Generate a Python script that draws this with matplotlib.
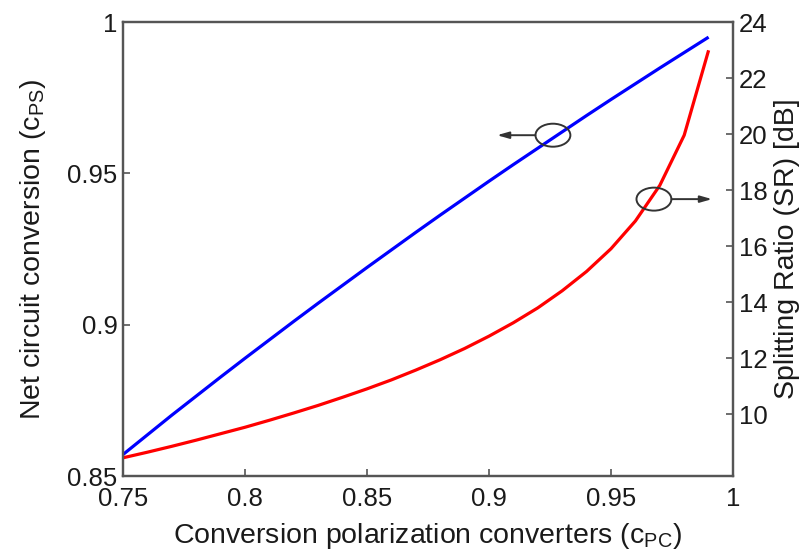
import matplotlib
matplotlib.use("Agg")
import matplotlib.pyplot as plt
from matplotlib.patches import Ellipse

# conversion of the polarization converters (x axis)
c_pc = [0.75, 0.76, 0.77, 0.78, 0.79, 0.80, 0.81, 0.82, 0.83, 0.84,
        0.85, 0.86, 0.87, 0.88, 0.89, 0.90, 0.91, 0.92, 0.93, 0.94,
        0.95, 0.96, 0.97, 0.98, 0.99]

# net circuit conversion (left axis)
c_ps = [0.8571, 0.8636, 0.8701, 0.8764, 0.8827, 0.8889, 0.8950, 0.9011,
        0.9071, 0.9130, 0.9189, 0.9247, 0.9305, 0.9362, 0.9418, 0.9474,
        0.9529, 0.9583, 0.9637, 0.9691, 0.9744, 0.9796, 0.9848, 0.9899,
        0.9950]

# splitting ratio in dB (right axis)
sr_db = [8.45, 8.65, 8.86, 9.08, 9.31, 9.54, 9.79, 10.05, 10.32, 10.61,
         10.91, 11.23, 11.58, 11.95, 12.35, 12.79, 13.27, 13.80, 14.41,
         15.10, 15.91, 16.90, 18.17, 19.96, 22.99]

x_ticks = [0.75, 0.8, 0.85, 0.9, 0.95, 1.0]
x_labels = ["0.75", "0.8", "0.85", "0.9", "0.95", "1"]
left_ticks = [0.85, 0.9, 0.95, 1.0]
left_labels = ["0.85", "0.9", "0.95", "1"]
right_ticks = [10, 12, 14, 16, 18, 20, 22, 24]

plt.rcParams["font.family"] = ["Liberation Sans", "DejaVu Sans"]
plt.rcParams["mathtext.fontset"] = "custom"
plt.rcParams["mathtext.rm"] = "Liberation Sans"

txt = "#1a1a1a"
edge = "#555555"
tick_fs = 18.5
label_fs = 20.5

fig = plt.figure(figsize=(8.07, 5.5), dpi=100)
ax = fig.add_axes([0.1524, 0.1345, 0.7559, 0.8255])
ax2 = ax.twinx()

ax.plot(c_pc, c_ps, color="#0000ff", lw=2.3, solid_capstyle="butt")
ax2.plot(c_pc, sr_db, color="#ff0000", lw=2.3, solid_capstyle="butt")

ax.set_xlim(0.75, 1.0)
ax.set_ylim(0.85, 1.0)
ax2.set_ylim(7.8, 24)

ax.set_xticks(x_ticks)
ax.set_xticklabels(x_labels)
ax.set_yticks(left_ticks)
ax.set_yticklabels(left_labels)
ax2.set_yticks(right_ticks)

for a in (ax, ax2):
    for s in a.spines.values():
        s.set_color(edge)
        s.set_linewidth(1.6)
ax.tick_params(direction="in", length=5, width=1.2, color=edge,
               labelsize=tick_fs, labelcolor=txt, pad=4, top=False, right=False)
ax.tick_params(axis="x", pad=8)
ax2.tick_params(direction="in", length=5, width=1.2, color=edge,
                labelsize=tick_fs, labelcolor=txt, pad=4)

ax.set_xlabel(r"Conversion polarization converters (c$_{\mathrm{PC}}$)",
              fontsize=label_fs, color=txt, labelpad=7)
ax.set_ylabel(r"Net circuit conversion (c$_{\mathrm{PS}}$)",
              fontsize=label_fs, color=txt, labelpad=14)
ax2.set_ylabel("Splitting Ratio (SR) [dB]", fontsize=label_fs, color=txt,
               labelpad=5)

# ellipse + arrow markers showing which axis each curve belongs to
mark = "#333333"
ax.add_patch(Ellipse((0.9262, 0.9626), 0.0143, 0.0076, fill=False,
                     ec=mark, lw=1.4, zorder=5))
ax.annotate("", xy=(0.9033, 0.9626), xytext=(0.9190, 0.9626),
            arrowprops=dict(arrowstyle="-|>,head_length=0.7,head_width=0.2",
                            color=mark, lw=1.4, shrinkA=0, shrinkB=0))
ax2.add_patch(Ellipse((0.9676, 17.68), 0.0143, 0.82, fill=False,
                      ec=mark, lw=1.4, zorder=5))
ax2.annotate("", xy=(0.9914, 17.68), xytext=(0.9748, 17.68),
             arrowprops=dict(arrowstyle="-|>,head_length=0.7,head_width=0.2",
                             color=mark, lw=1.4, shrinkA=0, shrinkB=0))

fig.savefig("out.png", dpi=100)
